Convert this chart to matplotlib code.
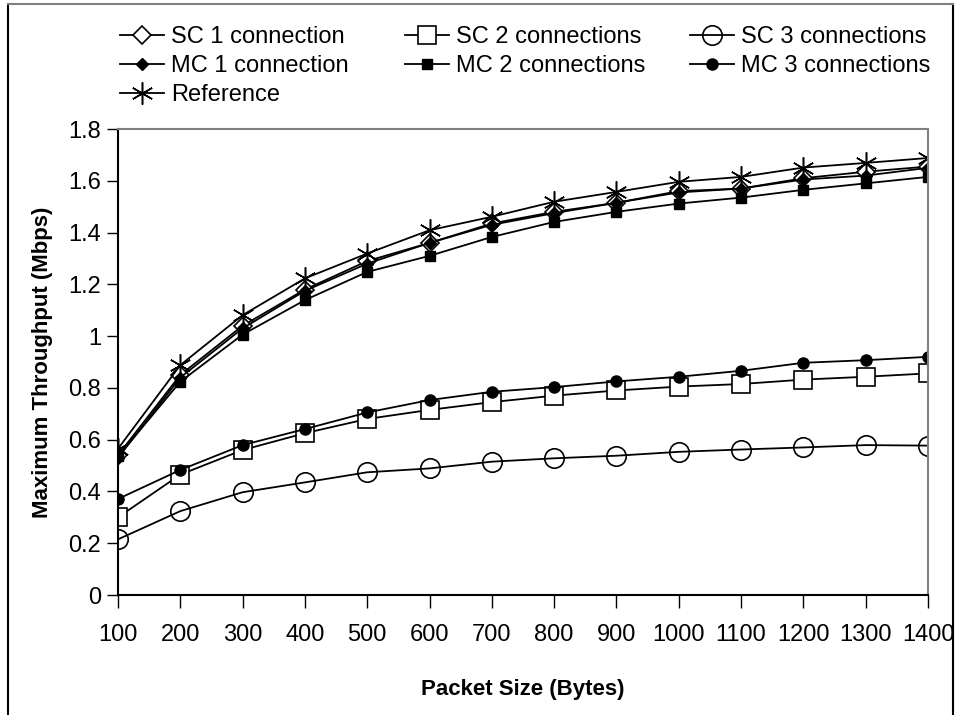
import matplotlib
matplotlib.use("Agg")
import matplotlib.pyplot as plt
from matplotlib.lines import Line2D

# ------------------------------------------------------------
# Data
# ------------------------------------------------------------

packet_sizes = [100, 200, 300, 400, 500, 600, 700, 800, 900, 1000, 1100, 1200, 1300, 1400]

sc_1 = [0.54, 0.85, 1.04, 1.18, 1.29, 1.36, 1.435, 1.48, 1.515, 1.56, 1.57, 1.61, 1.635, 1.655]
sc_2 = [0.30, 0.465, 0.56, 0.625, 0.68, 0.715, 0.745, 0.77, 0.79, 0.805, 0.815, 0.832, 0.843, 0.856]
sc_3 = [0.215, 0.324, 0.397, 0.435, 0.474, 0.489, 0.515, 0.528, 0.538, 0.553, 0.562, 0.570, 0.579, 0.577]
mc_1 = [0.53, 0.84, 1.03, 1.175, 1.28, 1.36, 1.43, 1.475, 1.515, 1.555, 1.57, 1.605, 1.62, 1.65]
mc_2 = [0.535, 0.824, 1.006, 1.139, 1.248, 1.31, 1.383, 1.441, 1.48, 1.512, 1.535, 1.565, 1.59, 1.615]
mc_3 = [0.371, 0.483, 0.579, 0.641, 0.705, 0.753, 0.785, 0.803, 0.825, 0.843, 0.866, 0.897, 0.907, 0.920]
reference = [0.565, 0.888, 1.081, 1.223, 1.319, 1.409, 1.461, 1.519, 1.557, 1.596, 1.615, 1.651, 1.669, 1.688]

y_ticks = [0, 0.2, 0.4, 0.6, 0.8, 1.0, 1.2, 1.4, 1.6, 1.8]
y_tick_labels = ["0", "0.2", "0.4", "0.6", "0.8", "1", "1.2", "1.4", "1.6", "1.8"]

# ------------------------------------------------------------
# Style
# ------------------------------------------------------------

plt.rcParams["font.family"] = ["Liberation Sans", "DejaVu Sans"]

# ------------------------------------------------------------
# Figure
# ------------------------------------------------------------

W, H = 955, 715

fig = plt.figure(figsize=(W / 100, H / 100), dpi=100)
ax = fig.add_axes([118 / W, 1 - 595 / H, 810 / W, 466 / H])

lw = 1.3

h_sc1, = ax.plot(packet_sizes, sc_1, color="black", lw=lw, marker="D", markersize=9,
                 markerfacecolor="white", markeredgecolor="black", markeredgewidth=1.2,
                 label="SC 1 connection")
h_sc2, = ax.plot(packet_sizes, sc_2, color="black", lw=lw, marker="s", markersize=13,
                 markerfacecolor="white", markeredgecolor="black", markeredgewidth=1.2,
                 label="SC 2 connections")
h_sc3, = ax.plot(packet_sizes, sc_3, color="black", lw=lw, marker="o", markersize=14,
                 markerfacecolor="none", markeredgecolor="black", markeredgewidth=1.2,
                 label="SC 3 connections")
h_mc1, = ax.plot(packet_sizes, mc_1, color="black", lw=lw, marker="D", markersize=6,
                 markerfacecolor="black", markeredgecolor="black",
                 label="MC 1 connection")
h_mc2, = ax.plot(packet_sizes, mc_2, color="black", lw=lw, marker="s", markersize=7,
                 markerfacecolor="black", markeredgecolor="black",
                 label="MC 2 connections")
h_mc3, = ax.plot(packet_sizes, mc_3, color="black", lw=lw, marker="o", markersize=8,
                 markerfacecolor="black", markeredgecolor="black",
                 label="MC 3 connections")
h_ref, = ax.plot(packet_sizes, reference, color="black", lw=lw, marker=(6, 2, 0), markersize=16,
                 markeredgewidth=1.1, markeredgecolor="black",
                 label="Reference")

ax.set_xlim(100, 1400)
ax.set_ylim(0, 1.8)

ax.set_xticks(packet_sizes)
ax.set_xticklabels([str(p) for p in packet_sizes])
ax.set_yticks(y_ticks)
ax.set_yticklabels(y_tick_labels)

ax.tick_params(axis="x", direction="out", length=9, width=1, pad=12, labelsize=17)
ax.tick_params(axis="y", direction="out", length=8, width=1, pad=4, labelsize=17)

for side in ["top", "right"]:
    ax.spines[side].set_color("#808080")
    ax.spines[side].set_linewidth(1.5)
for side in ["left", "bottom"]:
    ax.spines[side].set_color("black")
    ax.spines[side].set_linewidth(1.5)

ax.set_xlabel("Packet Size (Bytes)", fontsize=16, fontweight="bold", labelpad=24)
ax.set_ylabel("Maximum Throughput (Mbps)", fontsize=16, fontweight="bold", labelpad=11)

# ------------------------------------------------------------
# Legend: three equal-width columns
# ------------------------------------------------------------

columns = [
    (120, [h_sc1, h_mc1, h_ref]),
    (405, [h_sc2, h_mc2]),
    (690, [h_sc3, h_mc3]),
]

for x_px, col_handles in columns:
    leg = fig.legend(
        handles=col_handles,
        labels=[h.get_label() for h in col_handles],
        loc="upper left",
        bbox_to_anchor=(x_px / W, 1 - 26 / H),
        frameon=False,
        fontsize=17,
        handlelength=1.85,
        handletextpad=0.3,
        labelspacing=0.3,
        borderpad=0,
        borderaxespad=0,
    )

# ------------------------------------------------------------
# Outer frame
# ------------------------------------------------------------

fig.add_artist(Line2D([8 / W, 8 / W], [0, 1 - 4 / H], transform=fig.transFigure,
                      color="black", lw=1.5))
fig.add_artist(Line2D([953 / W, 953 / W], [0, 1 - 4 / H], transform=fig.transFigure,
                      color="black", lw=1.5))
fig.add_artist(Line2D([8 / W, 953 / W], [1 - 4 / H, 1 - 4 / H], transform=fig.transFigure,
                      color="#808080", lw=1.5))

fig.savefig("out.png", dpi=100)
